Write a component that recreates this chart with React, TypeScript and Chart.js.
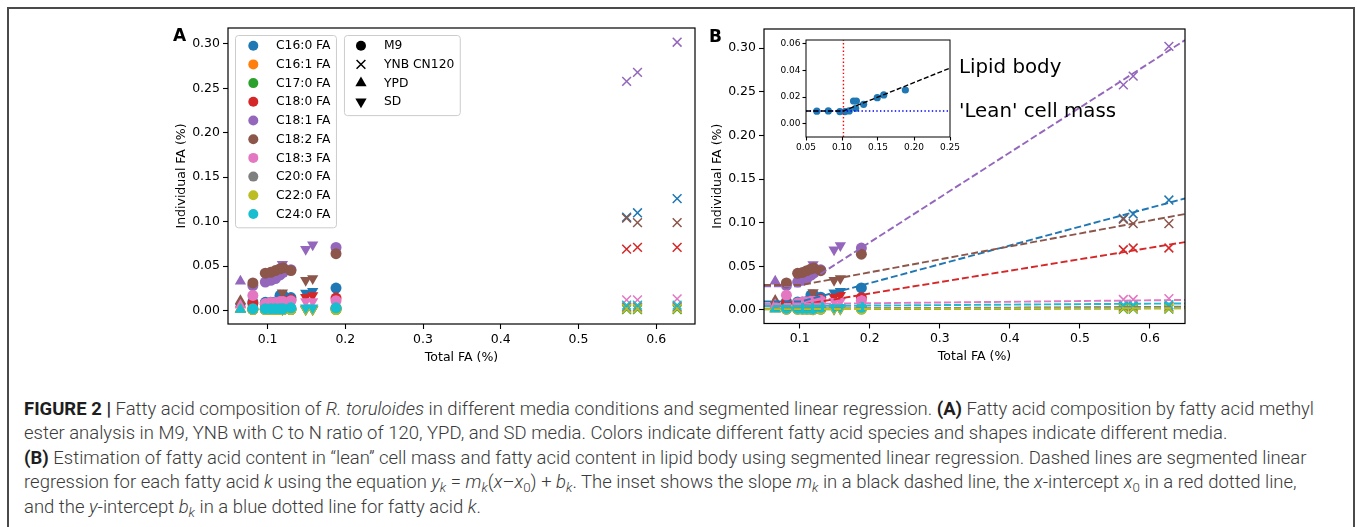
import React, { useEffect, useLayoutEffect, useRef } from "react";
import { Chart, registerables } from "chart.js";

Chart.register(...registerables);

const FONT = "'DejaVu Sans', sans-serif";

// ---------------- data ----------------
const faNames = ["C16:0 FA", "C16:1 FA", "C17:0 FA", "C18:0 FA", "C18:1 FA", "C18:2 FA", "C18:3 FA", "C20:0 FA", "C22:0 FA", "C24:0 FA"];
const faColors = ["#1f77b4", "#ff7f0e", "#2ca02c", "#d62728", "#9467bd", "#8c564b", "#e377c2", "#7f7f7f", "#bcbd22", "#17becf"];
const mediaNames = ["M9", "YNB CN120", "YPD", "SD"];

// samples: 8 x M9, 3 x YNB CN120, 1 x YPD, 3 x SD
const sampleMedium = ["M9", "M9", "M9", "M9", "M9", "M9", "M9", "M9", "YNB CN120", "YNB CN120", "YNB CN120", "YPD", "SD", "SD", "SD"];
const totalFA = [0.081, 0.097, 0.104, 0.110, 0.116, 0.120, 0.130, 0.188, 0.562, 0.576, 0.627, 0.065, 0.119, 0.149, 0.158];

const c16_0 = [0.0097, 0.0092, 0.0092, 0.0097, 0.0171, 0.0171, 0.0146, 0.0253, 0.105, 0.110, 0.126, 0.0095, 0.0117, 0.0196, 0.0216];
const c16_1 = [0.002, 0.002, 0.002, 0.002, 0.002, 0.002, 0.002, 0.003, 0.003, 0.003, 0.003, 0.002, 0.002, 0.002, 0.002];
const c17_0 = [0.001, 0.001, 0.001, 0.001, 0.001, 0.001, 0.001, 0.001, 0.001, 0.001, 0.001, 0.001, 0.001, 0.001, 0.001];
const c18_0 = [0.008, 0.007, 0.008, 0.008, 0.010, 0.011, 0.012, 0.014, 0.069, 0.071, 0.071, 0.007, 0.010, 0.015, 0.017];
const c18_1 = [0.028, 0.032, 0.034, 0.036, 0.040, 0.043, 0.046, 0.071, 0.258, 0.268, 0.302, 0.033, 0.052, 0.069, 0.074];
const c18_2 = [0.031, 0.042, 0.043, 0.045, 0.047, 0.048, 0.045, 0.064, 0.104, 0.099, 0.099, 0.011, 0.020, 0.034, 0.036];
const c18_3 = [0.017, 0.008, 0.009, 0.009, 0.010, 0.010, 0.011, 0.011, 0.012, 0.012, 0.013, 0.006, 0.008, 0.010, 0.010];
const c20_0 = [0.001, 0.001, 0.001, 0.001, 0.001, 0.001, 0.001, 0.002, 0.004, 0.004, 0.004, 0.001, 0.001, 0.001, 0.001];
const c22_0 = [0.001, 0.001, 0.001, 0.001, 0.001, 0.001, 0.001, 0.001, 0.002, 0.002, 0.002, 0.001, 0.001, 0.001, 0.001];
const c24_0 = [0.002, 0.002, 0.002, 0.002, 0.002, 0.002, 0.003, 0.003, 0.006, 0.006, 0.006, 0.001, 0.002, 0.003, 0.003];
const faSeries = [c16_0, c16_1, c17_0, c18_0, c18_1, c18_2, c18_3, c20_0, c22_0, c24_0];

// segmented regression y = m (x - x0) + b  (flat below x0)
const segBreakX0 = 0.102;
const segIntercept = [0.0097, 0.0015, 0.0008, 0.006, 0.027, 0.0286, 0.0069, 0.0015, 0.001, 0.0045];
const segSlope = [0.2155, 0.003, 0.002, 0.131, 0.515, 0.1485, 0.0084, 0.004, 0.002, 0.0055];

const xTicks = [0.1, 0.2, 0.3, 0.4, 0.5, 0.6];
const yTicks = [0, 0.05, 0.1, 0.15, 0.2, 0.25, 0.3];
const insetXTicks = [0.05, 0.1, 0.15, 0.2, 0.25];
const insetYTicks = [0, 0.02, 0.04, 0.06];

// axis limits
const X_MIN = 0.049, X_MAX = 0.65;
const YA_MIN = -0.0152, YA_MAX = 0.318;
const YB_MIN = -0.0155, YB_MAX = 0.322;
const IX_MIN = 0.05, IX_MAX = 0.25, IY_MIN = -0.0097, IY_MAX = 0.0625;

// ---------------- helpers ----------------
function markerStyle(m: number, color: string) {
  switch (m) {
    case 0:
      return { pointStyle: "circle", pointRadius: 5.5, pointBackgroundColor: color, pointBorderColor: color, pointBorderWidth: 0 };
    case 1:
      return { pointStyle: "crossRot", pointRadius: 6.2, pointBackgroundColor: color, pointBorderColor: color, pointBorderWidth: 1.5 };
    case 2:
      return { pointStyle: "triangle", pointRadius: 6.5, pointBackgroundColor: color, pointBorderColor: color, pointBorderWidth: 0 };
    default:
      return { pointStyle: "triangle", pointRotation: 180, pointRadius: 6.5, pointBackgroundColor: color, pointBorderColor: color, pointBorderWidth: 0 };
  }
}

function markerDatasets() {
  const sets: any[] = [];
  faSeries.forEach((vals, k) => {
    mediaNames.forEach((med, m) => {
      const data = totalFA
        .map((x, i) => ({ x, y: vals[i], med: sampleMedium[i] }))
        .filter((p) => p.med === med)
        .map(({ x, y }) => ({ x, y }));
      sets.push({ label: faNames[k] + " " + med, data, showLine: false, pointHoverRadius: 0, ...markerStyle(m, faColors[k]) });
    });
  });
  return sets;
}

function segPoints(k: number, x1: number, x2: number) {
  return [x1, segBreakX0, x2].map((x) => ({ x, y: segIntercept[k] + segSlope[k] * Math.max(0, x - segBreakX0) }));
}

function withOrder(sets: any[]) {
  return sets.map((d, i) => ({ ...d, order: -i }));
}

function scale(min: number, max: number, ticks: number[], dec: number, fontSize: number, fit: number, isX: boolean, tickLen: number, pad: number) {
  return {
    type: "linear",
    min,
    max,
    afterBuildTicks: (s: any) => {
      s.ticks = ticks.map((v) => ({ value: v }));
    },
    afterFit: (s: any) => {
      if (isX) s.height = fit;
      else s.width = fit;
      s.paddingLeft = 0;
      s.paddingRight = 0;
      s.paddingTop = 0;
      s.paddingBottom = 0;
    },
    ticks: {
      color: "#000",
      font: { family: FONT, size: fontSize },
      padding: pad,
      maxRotation: 0,
      minRotation: 0,
      autoSkip: false,
      callback: (v: any) => Number(v).toFixed(dec),
    },
    grid: { drawOnChartArea: false, drawTicks: true, tickLength: tickLen, tickColor: "#000", tickWidth: 1.1, color: "#000" },
    border: { display: false },
  };
}

function drawFrame(chart: any, lw: number) {
  const { ctx, chartArea: a } = chart;
  ctx.save();
  ctx.strokeStyle = "#000";
  ctx.lineWidth = lw;
  ctx.strokeRect(a.left, a.top, a.right - a.left, a.bottom - a.top);
  ctx.restore();
}

function drawAxisTitles(chart: any) {
  const { ctx, chartArea: a } = chart;
  ctx.save();
  ctx.fillStyle = "#000";
  ctx.font = `12.5px ${FONT}`;
  ctx.textAlign = "center";
  ctx.textBaseline = "middle";
  ctx.fillText("Total FA (%)", (a.left + a.right) / 2, a.bottom + 33.5);
  ctx.translate(a.left - 46.5, (a.top + a.bottom) / 2);
  ctx.rotate(-Math.PI / 2);
  ctx.fillText("Individual FA (%)", 0, 0);
  ctx.restore();
}

function drawLetter(chart: any, letter: string) {
  const { ctx, chartArea: a } = chart;
  ctx.save();
  ctx.fillStyle = "#000";
  ctx.font = `bold 17px ${FONT}`;
  ctx.textAlign = "center";
  ctx.textBaseline = "middle";
  ctx.fillText(letter, a.left - 48.5, a.top + 8.5);
  ctx.restore();
}

function drawMarker(ctx: CanvasRenderingContext2D, m: number, x: number, y: number, color: string) {
  ctx.save();
  ctx.fillStyle = color;
  ctx.strokeStyle = color;
  ctx.beginPath();
  if (m === 0) {
    ctx.arc(x, y, 5, 0, Math.PI * 2);
    ctx.fill();
  } else if (m === 1) {
    const d = 4.4;
    ctx.lineWidth = 1.5;
    ctx.moveTo(x - d, y - d);
    ctx.lineTo(x + d, y + d);
    ctx.moveTo(x - d, y + d);
    ctx.lineTo(x + d, y - d);
    ctx.stroke();
  } else {
    const r = 6.5;
    const s = m === 2 ? 1 : -1;
    const c = Math.cos(Math.PI / 6) * r;
    ctx.moveTo(x, y - s * r);
    ctx.lineTo(x + c, y + s * r / 2);
    ctx.lineTo(x - c, y + s * r / 2);
    ctx.closePath();
    ctx.fill();
  }
  ctx.restore();
}

function drawLegend(ctx: CanvasRenderingContext2D, x: number, y: number, labels: string[], colors: string[], markers: number[], markerDx: number, textDx: number) {
  ctx.save();
  ctx.font = `12.3px ${FONT}`;
  let maxW = 0;
  labels.forEach((l) => (maxW = Math.max(maxW, ctx.measureText(l).width)));
  const w = textDx + maxW + 5.5;
  const rowH = 18.7;
  const h = labels.length * rowH + 5.3;
  ctx.beginPath();
  (ctx as any).roundRect(x + 0.5, y + 0.5, w, h, 3);
  ctx.fillStyle = "rgba(255,255,255,0.8)";
  ctx.fill();
  ctx.strokeStyle = "#cccccc";
  ctx.lineWidth = 1;
  ctx.stroke();
  labels.forEach((l, i) => {
    const cy = y + 10.7 + i * rowH;
    drawMarker(ctx, markers[i], x + markerDx, cy, colors[i]);
    ctx.fillStyle = "#000";
    ctx.textAlign = "left";
    ctx.textBaseline = "middle";
    ctx.fillText(l, x + textDx, cy + 0.5);
  });
  ctx.restore();
  return w;
}

// ---------------- chart configs ----------------
function configA(): any {
  return {
    type: "scatter",
    data: { datasets: withOrder(markerDatasets()) },
    options: {
      responsive: false,
      animation: false,
      events: [],
      devicePixelRatio: 1,
      layout: { padding: { left: 0, top: 8, right: 10, bottom: 0 } },
      plugins: { legend: { display: false }, tooltip: { enabled: false } },
      scales: {
        x: scale(X_MIN, X_MAX, xTicks, 1, 12.5, 46, true, 5, 3),
        y: scale(YA_MIN, YA_MAX, yTicks, 2, 12.5, 68, false, 5, 3),
      },
    },
    plugins: [
      {
        id: "panelA",
        afterDatasetsDraw(chart: any) {
          const { ctx, chartArea: a } = chart;
          const lx = a.left + 7;
          const ly = a.top + 7;
          const w1 = drawLegend(ctx, lx, ly, faNames, faColors, faNames.map(() => 0), 18.3, 41);
          drawLegend(ctx, lx + w1 + 8, ly, mediaNames, mediaNames.map(() => "#000"), [0, 1, 2, 3], 17, 40);
        },
        afterDraw(chart: any) {
          drawFrame(chart, 1.2);
          drawAxisTitles(chart);
          drawLetter(chart, "A");
        },
      },
    ],
  };
}

function configB(): any {
  const lines = faSeries.map((_, k) => ({
    label: faNames[k] + " fit",
    data: segPoints(k, X_MIN, X_MAX),
    showLine: true,
    borderColor: faColors[k],
    borderWidth: 1.9,
    borderDash: [7, 3],
    pointRadius: 0,
    fill: false,
    tension: 0,
  }));
  return {
    type: "scatter",
    data: { datasets: withOrder([...markerDatasets(), ...lines]) },
    options: {
      responsive: false,
      animation: false,
      events: [],
      devicePixelRatio: 1,
      layout: { padding: { left: 0, top: 9, right: 15, bottom: 0 } },
      plugins: { legend: { display: false }, tooltip: { enabled: false } },
      scales: {
        x: scale(X_MIN, X_MAX, xTicks, 1, 12.5, 46.5, true, 5, 3),
        y: scale(YB_MIN, YB_MAX, yTicks, 2, 12.5, 69, false, 5, 3),
      },
    },
    plugins: [
      {
        id: "panelB",
        afterDraw(chart: any) {
          drawFrame(chart, 1.2);
          drawAxisTitles(chart);
          drawLetter(chart, "B");
          const { ctx, chartArea: a } = chart;
          ctx.save();
          ctx.fillStyle = "#000";
          ctx.font = `19.8px ${FONT}`;
          ctx.textAlign = "left";
          ctx.textBaseline = "middle";
          ctx.fillText("Lipid body", a.left + 195, a.top + 38.5);
          ctx.fillText("'Lean' cell mass", a.left + 195, a.top + 82.5);
          ctx.restore();
        },
      },
    ],
  };
}

function configInset(): any {
  const pts = totalFA.map((x, i) => ({ x, y: c16_0[i] })).filter((p) => p.x >= IX_MIN && p.x <= IX_MAX);
  return {
    type: "scatter",
    data: {
      datasets: withOrder([
        { label: "C16:0", data: pts, pointStyle: "circle", pointRadius: 3.6, pointBackgroundColor: faColors[0], pointBorderWidth: 0, showLine: false },
        {
          label: "intercept b",
          data: [{ x: IX_MIN, y: segIntercept[0] }, { x: IX_MAX, y: segIntercept[0] }],
          showLine: true,
          borderColor: "#0000ff",
          borderWidth: 1.4,
          borderDash: [1.4, 2.3],
          pointRadius: 0,
        },
        {
          label: "x0",
          data: [{ x: segBreakX0, y: IY_MIN }, { x: segBreakX0, y: IY_MAX }],
          showLine: true,
          borderColor: "#ff0000",
          borderWidth: 1.4,
          borderDash: [1.4, 2.3],
          pointRadius: 0,
        },
        {
          label: "slope m",
          data: segPoints(0, IX_MIN, IX_MAX),
          showLine: true,
          borderColor: "#000",
          borderWidth: 1.4,
          borderDash: [5, 2.3],
          pointRadius: 0,
        },
      ]),
    },
    options: {
      responsive: false,
      animation: false,
      events: [],
      devicePixelRatio: 1,
      layout: { padding: { left: 0, top: 6, right: 18, bottom: 0 } },
      plugins: { legend: { display: false }, tooltip: { enabled: false } },
      scales: {
        x: scale(IX_MIN, IX_MAX, insetXTicks, 2, 9, 19, true, 3.5, 2),
        y: scale(IY_MIN, IY_MAX, insetYTicks, 2, 9, 40, false, 3.5, 2),
      },
    },
    plugins: [
      {
        id: "insetBg",
        beforeDatasetsDraw(chart: any) {
          const { ctx, chartArea: a } = chart;
          ctx.save();
          ctx.fillStyle = "#fff";
          ctx.fillRect(a.left, a.top, a.right - a.left, a.bottom - a.top);
          ctx.restore();
        },
        afterDraw(chart: any) {
          drawFrame(chart, 1);
        },
      },
    ],
  };
}

// ---------------- caption ----------------
const CAPTION_LEFT = 24;
const CAPTION_RIGHT = 1314;
const CAPTION_TOP = 408.5;
const CAPTION_STEP = 24.6;

const subStyle: React.CSSProperties = { fontSize: "0.72em", verticalAlign: "-0.28em", lineHeight: 0 };
const boldStyle: React.CSSProperties = { color: "#1e1e1e", fontWeight: 700 };

const captionLines: React.ReactNode[] = [
  <>
    <b style={boldStyle}>FIGURE 2 |</b> Fatty acid composition of <i>R. toruloides</i> in different media conditions and segmented linear regression.{" "}
    <b style={boldStyle}>(A)</b> Fatty acid composition by fatty acid methyl
  </>,
  <>ester analysis in M9, YNB with C to N ratio of 120, YPD, and SD media. Colors indicate different fatty acid species and shapes indicate different media.</>,
  <>
    <b style={boldStyle}>(B)</b> Estimation of fatty acid content in “lean” cell mass and fatty acid content in lipid body using segmented linear regression. Dashed lines are segmented linear
  </>,
  <>
    regression for each fatty acid <i>k</i> using the equation{" "}
    <i>
      y<sub style={subStyle}>k</sub>
    </i>{" "}
    ={" "}
    <i>
      m<sub style={subStyle}>k</sub>
    </i>
    (<i>x</i>–<i>x</i>
    <sub style={subStyle}>0</sub>) +{" "}
    <i>
      b<sub style={subStyle}>k</sub>
    </i>
    . The inset shows the slope{" "}
    <i>
      m<sub style={subStyle}>k</sub>
    </i>{" "}
    in a black dashed line, the <i>x</i>-intercept <i>x</i>
    <sub style={subStyle}>0</sub> in a red dotted line,
  </>,
  <>
    and the <i>y</i>-intercept{" "}
    <i>
      b<sub style={subStyle}>k</sub>
    </i>{" "}
    in a blue dotted line for fatty acid <i>k</i>.
  </>,
];

function Caption() {
  const refs = useRef<(HTMLSpanElement | null)[]>([]);
  useLayoutEffect(() => {
    const fit = () => {
      const first = refs.current[0];
      if (!first) return;
      refs.current.forEach((el) => {
        if (el) el.style.transform = "none";
      });
      const natural = first.getBoundingClientRect().width;
      const s = (CAPTION_RIGHT - CAPTION_LEFT) / natural;
      refs.current.forEach((el) => {
        if (el) el.style.transform = `scaleX(${s})`;
      });
    };
    fit();
    if ((document as any).fonts && (document as any).fonts.ready) (document as any).fonts.ready.then(fit);
  }, []);
  return (
    <>
      {captionLines.map((line, i) => (
        <div
          key={i}
          style={{
            position: "absolute",
            left: CAPTION_LEFT,
            top: CAPTION_TOP + i * CAPTION_STEP - 12,
            height: 24,
            lineHeight: "24px",
            whiteSpace: "nowrap",
          }}
        >
          <span
            ref={(el) => {
              refs.current[i] = el;
            }}
            style={{
              display: "inline-block",
              transformOrigin: "0 50%",
              fontFamily: "Roboto, 'Liberation Sans', Arial, sans-serif",
              fontWeight: 300,
              fontSize: 17.5,
              color: "#3a3a3a",
            }}
          >
            {line}
          </span>
        </div>
      ))}
    </>
  );
}

// ---------------- app ----------------
export default function App() {
  const aRef = useRef<HTMLCanvasElement>(null);
  const bRef = useRef<HTMLCanvasElement>(null);
  const iRef = useRef<HTMLCanvasElement>(null);

  useEffect(() => {
    Chart.defaults.font.family = FONT;
    const ca = new Chart(aRef.current as HTMLCanvasElement, configA());
    const cb = new Chart(bRef.current as HTMLCanvasElement, configB());
    const ci = new Chart(iRef.current as HTMLCanvasElement, configInset());
    return () => {
      ca.destroy();
      cb.destroy();
      ci.destroy();
    };
  }, []);

  return (
    <div style={{ position: "fixed", left: 0, top: 0, width: 1357, height: 527, overflow: "hidden", background: "#fff" }}>
      <div
        style={{
          position: "absolute",
          left: 7,
          top: 7,
          width: 1348,
          height: 700,
          boxSizing: "border-box",
          border: "2px solid #4a4a4a",
        }}
      />
      <canvas ref={aRef} width={545} height={350} style={{ position: "absolute", left: 160, top: 20 }} />
      <canvas ref={bRef} width={505} height={350} style={{ position: "absolute", left: 695, top: 20 }} />
      <canvas ref={iRef} width={202} height={122} style={{ position: "absolute", left: 766, top: 34 }} />
      <Caption />
    </div>
  );
}
